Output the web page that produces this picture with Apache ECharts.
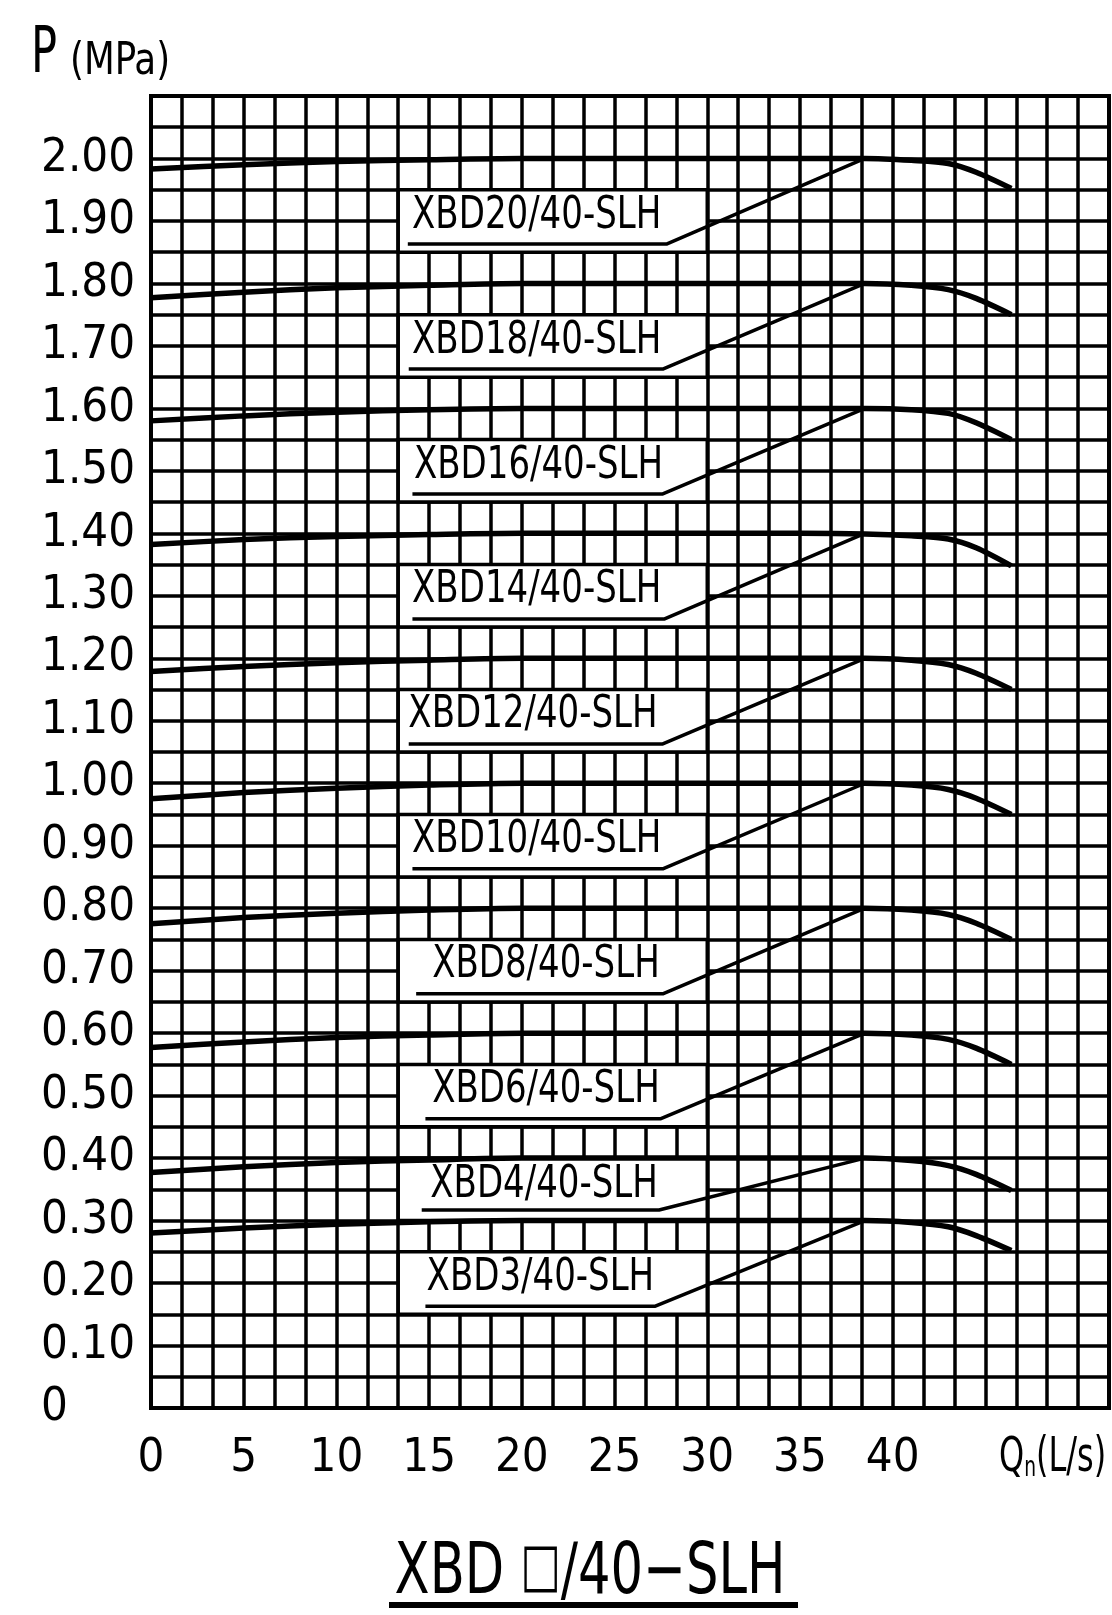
<!DOCTYPE html>
<html>
<head>
<meta charset="utf-8">
<script src="https://cdn.jsdelivr.net/npm/echarts@6/dist/echarts.min.js"></script>
<style>
html,body{margin:0;padding:0;background:#fff;}
#chart{width:1112px;height:1615px;}
</style>
</head>
<body>
<div id="chart"></div>
<script>
// ---- data ----
var flow = [0, 5, 10, 15, 20, 25, 30, 35, 38.5, 41, 43, 44.5, 46.4];
var modelNames = ['XBD20/40-SLH','XBD18/40-SLH','XBD16/40-SLH','XBD14/40-SLH','XBD12/40-SLH',
                  'XBD10/40-SLH','XBD8/40-SLH','XBD6/40-SLH','XBD4/40-SLH','XBD3/40-SLH'];
var pXBD20 = [1.983, 1.990, 1.995, 1.998, 2.000, 2.000, 2.000, 2.000, 2.000, 1.997, 1.992, 1.978, 1.952];
var pXBD18 = [1.777, 1.786, 1.793, 1.797, 1.800, 1.800, 1.800, 1.800, 1.800, 1.797, 1.790, 1.776, 1.750];
var pXBD16 = [1.580, 1.588, 1.594, 1.598, 1.600, 1.600, 1.600, 1.600, 1.600, 1.598, 1.592, 1.577, 1.550];
var pXBD14 = [1.382, 1.390, 1.395, 1.398, 1.400, 1.400, 1.400, 1.400, 1.399, 1.396, 1.391, 1.377, 1.348];
var pXBD12 = [1.179, 1.187, 1.193, 1.197, 1.200, 1.200, 1.200, 1.200, 1.200, 1.197, 1.190, 1.176, 1.150];
var pXBD10 = [0.975, 0.985, 0.992, 0.997, 1.000, 1.000, 1.000, 1.000, 1.000, 0.997, 0.990, 0.976, 0.950];
var pXBD8  = [0.775, 0.785, 0.792, 0.797, 0.800, 0.800, 0.800, 0.800, 0.800, 0.797, 0.790, 0.776, 0.750];
var pXBD6  = [0.577, 0.586, 0.593, 0.597, 0.600, 0.600, 0.600, 0.600, 0.600, 0.597, 0.590, 0.576, 0.550];
var pXBD4  = [0.377, 0.386, 0.393, 0.397, 0.400, 0.400, 0.400, 0.400, 0.400, 0.396, 0.388, 0.374, 0.348];
var pXBD3  = [0.280, 0.288, 0.294, 0.298, 0.300, 0.300, 0.300, 0.300, 0.300, 0.297, 0.290, 0.276, 0.252];
var pressures = [pXBD20, pXBD18, pXBD16, pXBD14, pXBD12, pXBD10, pXBD8, pXBD6, pXBD4, pXBD3];

// label annotations (data units)
var labelX        = [20.8, 20.8, 20.9, 20.8, 20.6, 20.8, 21.3, 21.3, 21.2, 21.0];
var labelP        = [1.908, 1.708, 1.508, 1.308, 1.108, 0.908, 0.708, 0.508, 0.357, 0.208];
var underlineP    = [1.863, 1.663, 1.463, 1.263, 1.063, 0.863, 0.663, 0.463, 0.317, 0.163];
var underlineX0   = [13.85, 13.9, 14.1, 14.1, 13.9, 14.1, 14.3, 14.8, 14.6, 14.8];
var underlineX1   = [27.8, 27.6, 27.6, 27.7, 27.6, 27.6, 27.6, 27.5, 27.4, 27.2];
var leaderEndX    = [38.5, 38.5, 38.5, 38.5, 38.5, 38.5, 38.5, 38.5, 38.5, 38.5];
var leaderEndP    = [2.0, 1.8, 1.6, 1.4, 1.2, 1.0, 0.8, 0.6, 0.4, 0.3];
var boxTopP       = [1.95, 1.75, 1.55, 1.35, 1.15, 0.95, 0.75, 0.55, 0.40, 0.25];
var boxBottomP    = [1.85, 1.65, 1.45, 1.25, 1.05, 0.85, 0.65, 0.45, 0.30, 0.15];
var boxLeftX      = 40/3;
var boxRightX     = 30;

// axes
var xMax = 155/3, xStep = 5/3, yMax = 2.1, yStep = 0.05;

var FONT = "'DejaVu Sans Condensed','Liberation Sans Narrow','Liberation Sans',sans-serif";

var chart = echarts.init(document.getElementById('chart'), null, {renderer:'canvas'});

var series = [];
// white label boxes
var boxData = [];
for (var i = 0; i < modelNames.length; i++) boxData.push([boxLeftX, boxTopP[i], boxRightX, boxBottomP[i]]);
series.push({
  type:'custom', data:boxData, z:2, silent:true,
  renderItem:function(params, api){
    var p1 = api.coord([api.value(0), api.value(1)]);
    var p2 = api.coord([api.value(2), api.value(3)]);
    return {type:'rect', shape:{x:p1[0], y:p1[1], width:p2[0]-p1[0], height:p2[1]-p1[1]},
            style:{fill:'#fff', stroke:'#000', lineWidth:3.5}};
  }
});
// curves
for (var i = 0; i < pressures.length; i++) {
  var d = [];
  for (var j = 0; j < flow.length; j++) d.push([flow[j], pressures[i][j]]);
  series.push({
    type:'line', name:modelNames[i], data:d, showSymbol:false, symbol:'none', smooth:0.3, z:5,
    lineStyle:{color:'#000', width:5.5}
  });
}
// leader lines (underline + diagonal)
for (var i = 0; i < modelNames.length; i++) {
  series.push({
    type:'line', data:[[underlineX0[i], underlineP[i]], [underlineX1[i], underlineP[i]], [leaderEndX[i], leaderEndP[i]]],
    showSymbol:false, symbol:'none', z:4, lineStyle:{color:'#000', width:3.5}
  });
}
// label texts
var labData = [];
for (var i = 0; i < modelNames.length; i++) labData.push([labelX[i], labelP[i], i]);
series.push({
  type:'custom', data:labData, z:6, silent:true,
  renderItem:function(params, api){
    var p = api.coord([api.value(0), api.value(1)]);
    return {type:'text', x:p[0], y:p[1], scaleX:0.84,
            style:{text:modelNames[api.value(2)], fontFamily:FONT, fontSize:45, fill:'#000',
                   align:'center', verticalAlign:'middle', textAlign:'center', textVerticalAlign:'middle'}};
  }
});

chart.setOption({
  animation:false,
  backgroundColor:'#fff',
  grid:{left:151, top:96, width:958, height:1312, show:true, borderColor:'#000', borderWidth:4, backgroundColor:'#fff'},
  xAxis:{
    type:'value', min:0, max:xMax, interval:xStep,
    axisLine:{show:false}, axisTick:{show:false},
    splitLine:{show:true, lineStyle:{color:'#000', width:3.5}},
    axisLabel:{
      interval:0, margin:27, color:'#000', fontFamily:FONT, fontSize:47, hideOverlap:false,
      formatter:function(v){ var r=v/5; if (Math.abs(r-Math.round(r))<1e-6 && v<41) return String(Math.round(v)); return ''; }
    }
  },
  yAxis:{
    type:'value', min:0, max:yMax, interval:yStep,
    axisLine:{show:false}, axisTick:{show:false},
    splitLine:{show:true, lineStyle:{color:'#000', width:3.5}},
    axisLabel:{
      interval:0, margin:110, align:'left', color:'#000', fontFamily:FONT, fontSize:47, hideOverlap:false,
      formatter:function(v){ var r=Math.round(v*100); if (r%10!==0 || r>200) return ''; return r===0?'0':(r/100).toFixed(2); }
    }
  },
  graphic:[
    {type:'text', x:31, y:55, scaleX:0.75, style:{text:'P', fontFamily:FONT, fontSize:64, fill:'#000', align:'left', verticalAlign:'middle'}},
    {type:'text', x:70, y:63, scaleX:0.9, style:{text:'(MPa)', fontFamily:FONT, fontSize:44, fill:'#000', align:'left', verticalAlign:'middle'}},
    {type:'text', x:999, y:1459, scaleX:0.74, style:{
      text:'{q|Q}{n|n}{q|(L/s)}', fill:'#000', align:'left', verticalAlign:'middle',
      rich:{q:{fontFamily:FONT, fontSize:48, fill:'#000'}, n:{fontFamily:FONT, fontSize:28, fill:'#000', verticalAlign:'bottom', padding:[14,0,0,0]}}
    }},
    {type:'text', x:590, y:1574, scaleX:0.79, style:{
      text:'{a|XBD }{b|\u25A1}{a|/40\u2212SLH}', fill:'#000', align:'center', verticalAlign:'middle',
      rich:{a:{fontFamily:FONT, fontSize:72, fill:'#000'}, b:{fontFamily:FONT, fontSize:60, fill:'#000', padding:[0,0,10,0]}}
    }},
    {type:'line', shape:{x1:389, y1:1605, x2:798, y2:1605}, style:{stroke:'#000', lineWidth:6}}
  ],
  series:series
});
</script>
</body>
</html>
